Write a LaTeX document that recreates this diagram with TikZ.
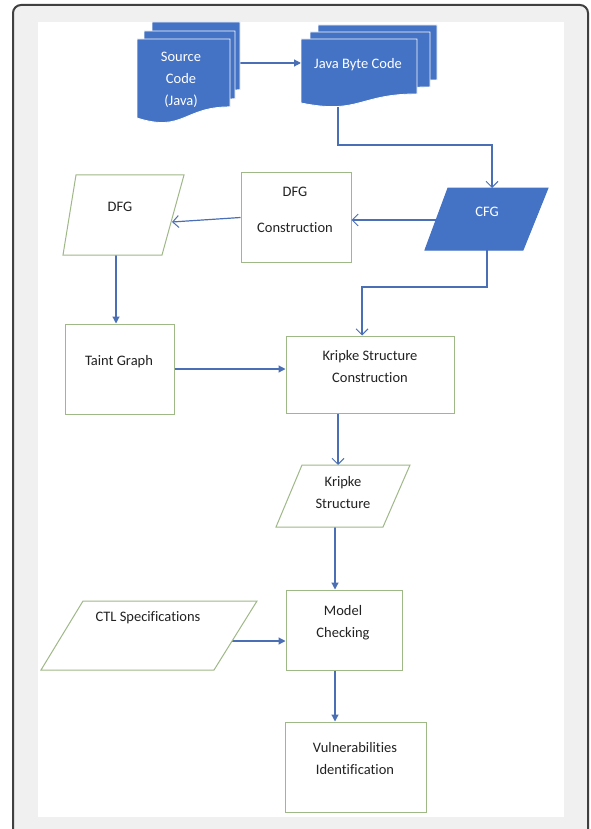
\documentclass[tikz,border=0pt]{standalone}
\usepackage{fontspec}
\setmainfont{Carlito}[Ligatures=CommonOff]
\usetikzlibrary{arrows.meta,calc}
\definecolor{ofblue}{HTML}{4472C4}
\definecolor{arrblue}{HTML}{4A6FB5}
\definecolor{boxgreen}{HTML}{9FB888}
\definecolor{framegray}{HTML}{404040}
\definecolor{panelgray}{HTML}{F0F0F0}
\definecolor{txtdark}{HTML}{222222}
\newcommand\docpage[4]{% left, top, right, height
  \filldraw[docsheet] (#1,#2) -- (#3,#2) -- (#3,{#2+0.802*#4})
    .. controls ({(#1+#3)/2},{#2+0.802*#4}) and ({(#1+#3)/2},{#2+1.107*#4}) ..
    (#1,{#2+0.934*#4}) -- cycle;}
\tikzset{
  docsheet/.style={fill=ofblue, draw=white, line width=0.8pt},
  gbox/.style={draw=boxgreen, line width=1pt, fill=white, inner sep=0pt},
  para/.style={draw=boxgreen, line width=1pt, fill=white},
  bpara/.style={draw=ofblue, line width=1pt, fill=ofblue},
  lbl/.style={font=\fontsize{14.5}{22}\selectfont, text=txtdark, align=center, inner sep=0pt},
  wlbl/.style={lbl, text=white},
  conn/.style={draw=arrblue, line width=1.2pt},
  fillarrow/.style={conn, -{Triangle[length=7pt,width=7pt]}},
  openarrow/.style={conn, -{Straight Barb[length=6pt,width=12pt,line width=1pt]}}
}
\begin{document}
\begin{tikzpicture}[x=1pt,y=-1pt]
\useasboundingbox (0,0) rectangle (590,829);
\begin{scope}
\clip (0,0) rectangle (590,829);
\draw[framegray, line width=2pt, fill=panelgray, rounded corners=8pt] (13,5) rectangle (588,845);
\end{scope}
\fill[white] (38,22) rectangle (564,817);

% named coordinates for connector ends
\coordinate (scR) at (240,63);
\coordinate (jbcL) at (301,63);
\coordinate (jbcB) at (338,100);
\coordinate (bendA) at (492,145);
\coordinate (cfgT) at (492,188);
\coordinate (cfgL) at (436,220);
\coordinate (cfgB) at (487,250);
\coordinate (bendB) at (362,287);
\coordinate (dfgR) at (172,222);
\coordinate (dfgB) at (116,255);
\coordinate (ksT) at (338,465);
\coordinate (ksB) at (335,527);
\coordinate (ctlR) at (232,641);

% boxes
\node[gbox, minimum width=110pt, minimum height=89pt] (dfgc) at (296,217.5) {};
\node[gbox, minimum width=109pt, minimum height=90pt] (taint) at (119.5,369) {};
\node[gbox, minimum width=168pt, minimum height=77pt] (kc) at (370,374.5) {};
\node[gbox, minimum width=116pt, minimum height=80pt] (mc) at (344,630) {};
\node[gbox, minimum width=141pt, minimum height=90pt] (vi) at (355.5,767) {};

% connectors
\draw[fillarrow] (scR) -- (jbcL);
\draw[openarrow] (jbcB) |- (bendA) -- (cfgT);
\draw[openarrow] (cfgL) -- (cfgL -| dfgc.east);
\draw[openarrow] (dfgc.west) -- (dfgR);
\draw[fillarrow] (dfgB) -- (dfgB |- taint.north);
\draw[openarrow] (cfgB) |- (bendB) -- (bendB |- kc.north);
\draw[fillarrow] (taint.east) -- (taint.east -| kc.west);
\draw[openarrow] (ksT |- kc.south) -- (ksT);
\draw[fillarrow] (ksB) -- (ksB |- mc.north);
\draw[fillarrow] (ctlR) -- (ctlR -| mc.west);
\draw[fillarrow] (ksB |- mc.south) -- (ksB |- vi.north);

% documents
\docpage{152}{22}{240}{84.6}
\docpage{144}{31}{235}{84.6}
\docpage{137}{39}{230}{84.6}
\docpage{318}{25}{437}{68.5}
\docpage{310}{32}{430}{68.5}
\docpage{301}{39}{417}{68.5}

% parallelograms
\draw[para] (76,175) -- (184,175) -- (162,255) -- (63,255) -- cycle;
\draw[bpara] (448,188) -- (548,188) -- (523,250) -- (425,250) -- cycle;
\draw[para] (302,465) -- (410,465) -- (383,527) -- (276,527) -- cycle;
\draw[para] (83,601) -- (257,601) -- (214,670) -- (41,670) -- cycle;

% labels
\node[wlbl] (sctext) at (181,79.5) {Source\\Code\\(Java)};
\node[wlbl] (jbctext) at (358,65) {Java Byte Code};
\node[wlbl] (cfgtext) at (487,212) {CFG};
\node[lbl] (dfgtext) at (120,207) {DFG};
\node[lbl] (dfgctext) at (295,210) {DFG\\[14pt]Construction};
\node[lbl] (tainttext) at (119,362) {Taint Graph};
\node[lbl] (kctext) at (370,367) {Kripke Structure\\Construction};
\node[lbl] (kstext) at (343,493) {Kripke\\Structure};
\node[lbl] (ctltext) at (148,618) {CTL Specifications};
\node[lbl] (mctext) at (343,623) {Model\\Checking};
\node[lbl] (vitext) at (355,759) {Vulnerabilities\\Identification};
\end{tikzpicture}
\end{document}
